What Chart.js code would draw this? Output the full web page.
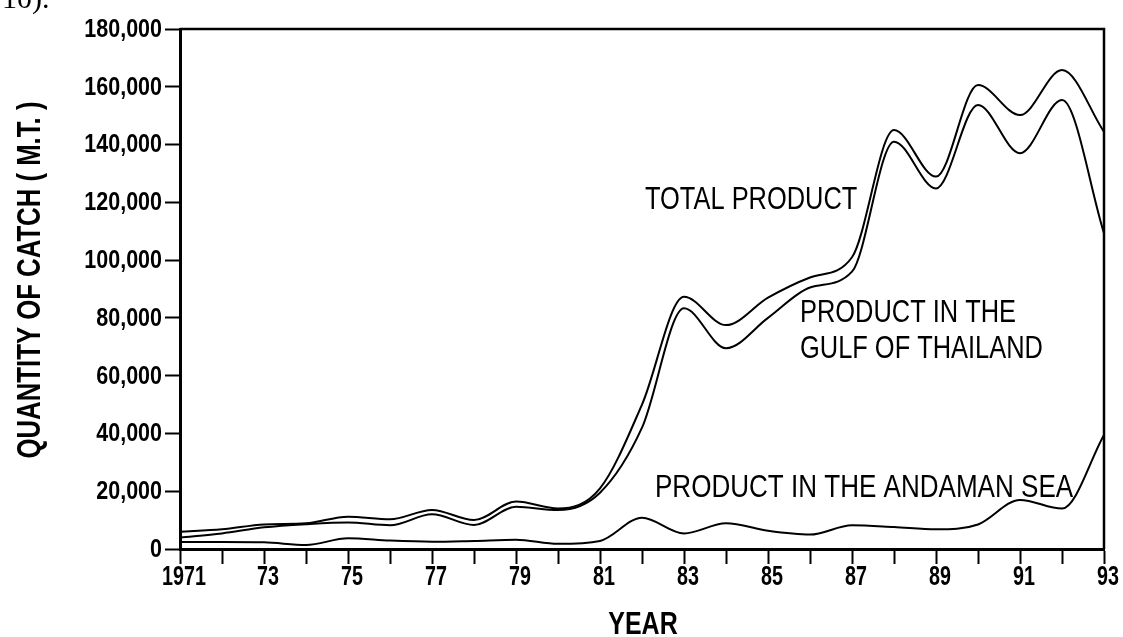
<!DOCTYPE html>
<html>
<head>
<meta charset="utf-8">
<script src="https://cdn.jsdelivr.net/npm/chart.js@4.4.1/dist/chart.umd.min.js"></script>
<style>
  html, body { margin: 0; padding: 0; background: #fff; }
  #wrap { width: 1123px; height: 637px; position: relative; }
</style>
</head>
<body>
<div id="wrap"><canvas id="catch_chart" width="1123" height="637"></canvas></div>
<script>
const years = [1971, 1972, 1973, 1974, 1975, 1976, 1977, 1978, 1979, 1980, 1981, 1982,
               1983, 1984, 1985, 1986, 1987, 1988, 1989, 1990, 1991, 1992, 1993];

const totalProduct = [6000, 6800, 8500, 8900, 11200, 10300, 13500, 10000, 16400, 14000, 21000, 50000,
                      87300, 77500, 87000, 94000, 101000, 145000, 128900, 160600, 150200, 165800, 144400];

const gulfProduct = [3900, 5400, 7500, 8600, 9200, 8200, 12000, 8300, 14600, 13500, 19500, 42000,
                     83300, 69500, 80000, 90500, 96000, 141000, 124800, 153700, 137000, 155400, 109300];

const andamanProduct = [2400, 2400, 2300, 1400, 3700, 2900, 2500, 2800, 3200, 1800, 2800, 10800,
                        5400, 8900, 6300, 5000, 8200, 7600, 6800, 8500, 17000, 14000, 39500];

const yTicks = [0, 20000, 40000, 60000, 80000, 100000, 120000, 140000, 160000, 180000];

const xLabel = (v) => {
    if (v === years[0]) return String(v);
    return v % 2 === 1 ? String(v).slice(2) : '';
};

const sans = "'Liberation Sans', Arial, sans-serif";

// the original uses a narrow face; squeeze the normal one with maxWidth
function narrowText(ctx, text, x, y, size, weight, squeeze, align) {
    ctx.font = weight + ' ' + size + 'px ' + sans;
    ctx.textAlign = align;
    const w = ctx.measureText(text).width * squeeze;
    ctx.fillText(text, x, y, w);
}

function toPoints(values) {
    return years.map((yr, i) => ({ x: yr, y: values[i] }));
}

function lineSet(name, values) {
    return {
        label: name,
        data: toPoints(values),
        borderColor: '#000',
        borderWidth: 2,
        pointRadius: 0,
        fill: false,
        cubicInterpolationMode: 'monotone'
    };
}

const textPlugin = {
    id: 'frameAndText',
    afterDraw(chart) {
        const ctx = chart.ctx;
        const a = chart.chartArea;
        const xs = chart.scales.x;
        const ys = chart.scales.y;
        ctx.save();

        // top and right sides of the box
        ctx.strokeStyle = '#000';
        ctx.lineWidth = 2.5;
        ctx.beginPath();
        ctx.moveTo(a.left, a.top);
        ctx.lineTo(a.right, a.top);
        ctx.lineTo(a.right, a.bottom);
        ctx.stroke();

        ctx.fillStyle = '#000';

        // tick labels
        ctx.textBaseline = 'middle';
        yTicks.forEach(v => {
            narrowText(ctx, v.toLocaleString('en-US'), a.left - 18, ys.getPixelForValue(v) + 1, 25, 'bold', 0.86, 'right');
        });
        ctx.textBaseline = 'alphabetic';
        years.forEach(v => {
            const t = xLabel(v);
            if (t) narrowText(ctx, t, xs.getPixelForValue(v) + 4, a.bottom + 36, 27, 'bold', 0.73, 'center');
        });

        // axis titles
        narrowText(ctx, 'YEAR', (a.left + a.right) / 2 + 1, 634, 32, 'bold', 0.78, 'center');
        ctx.save();
        ctx.translate(40, 280);
        ctx.rotate(-Math.PI / 2);
        narrowText(ctx, 'QUANTITY OF CATCH ( M.T. )', 0, 0, 33, 'bold', 0.78, 'center');
        ctx.restore();

        // curve labels
        narrowText(ctx, 'TOTAL PRODUCT', 645, 209, 31, 'normal', 0.82, 'left');
        narrowText(ctx, 'PRODUCT IN THE', 800, 322, 31, 'normal', 0.82, 'left');
        narrowText(ctx, 'GULF OF THAILAND', 800, 358, 31, 'normal', 0.82, 'left');
        narrowText(ctx, 'PRODUCT IN THE ANDAMAN SEA', 655, 497, 31, 'normal', 0.84, 'left');

        ctx.font = "30px 'Liberation Serif', serif";
        ctx.textAlign = 'left';
        ctx.fillText('10).', 2, 8);
        ctx.restore();
    }
};

const data = {
    datasets: [
        lineSet('TOTAL PRODUCT', totalProduct),
        lineSet('PRODUCT IN THE GULF OF THAILAND', gulfProduct),
        lineSet('PRODUCT IN THE ANDAMAN SEA', andamanProduct)
    ]
};

const config = {
    type: 'line',
    data: data,
    plugins: [textPlugin],
    options: {
        responsive: false,
        animation: false,
        layout: { padding: { left: 0, right: 19, top: 29, bottom: 0 } },
        plugins: {
            legend: { display: false },
            tooltip: { enabled: false }
        },
        scales: {
            x: {
                type: 'linear',
                min: years[0],
                max: years[years.length - 1],
                afterFit: (scale) => { scale.height = 88; },
                afterBuildTicks: (scale) => { scale.ticks = years.map(v => ({ value: v })); },
                border: { display: true, color: '#000', width: 3 },
                grid: { drawOnChartArea: false, drawTicks: true, tickLength: 15, tickWidth: 2, color: '#000' },
                ticks: { display: false }
            },
            y: {
                min: 0,
                max: 180000,
                afterFit: (scale) => { scale.width = 180; },
                afterBuildTicks: (scale) => { scale.ticks = yTicks.map(v => ({ value: v })); },
                border: { display: true, color: '#000', width: 3 },
                grid: { drawOnChartArea: false, drawTicks: true, tickLength: 15, tickWidth: 2, color: '#000' },
                ticks: { display: false }
            }
        }
    }
};

const ctx = document.getElementById('catch_chart');
new Chart(ctx, config);
</script>
</body>
</html>
